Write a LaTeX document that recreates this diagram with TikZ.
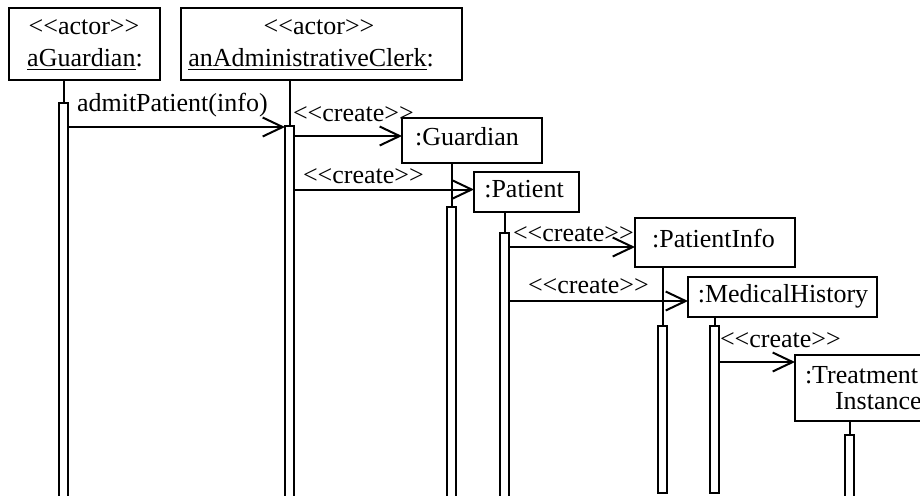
\documentclass[tikz,border=0pt]{standalone}
\usepackage{fontspec}
\setmainfont{Liberation Serif}
\usetikzlibrary{arrows.meta}
\newcommand\stlt{<{}<}
\newcommand\stgt{>{}>}
\begin{document}
\begin{tikzpicture}[x=0.5pt,y=-0.5pt,
  box/.style={draw, line width=1pt, rectangle, inner sep=0pt, outer sep=0pt, fill=white},
  bar/.style={draw, line width=0.9pt, rectangle, inner sep=0pt, outer sep=0pt, fill=white, minimum width=4.5pt},
  life/.style={line width=1pt},
  lbl/.style={inner sep=0pt, outer sep=0pt, anchor=base, font=\fontsize{13pt}{15.6pt}\selectfont},
  msg/.style={line width=1pt, -{Straight Barb[length=10pt,width=9.5pt,line width=1pt]}}
]
\useasboundingbox (0,0) rectangle (920,495);
\clip (0,0) rectangle (920,495);
\fill[white] (0,0) rectangle (920,495);

% object boxes
\node[box, minimum width=75.5pt, minimum height=36pt] (aG) at (84.5,44) {};
\node[box, minimum width=140.5pt, minimum height=36pt] (clerk) at (321.5,44) {};
\node[box, minimum width=70pt, minimum height=22.5pt] (guard) at (472,140.5) {};
\node[box, minimum width=52.5pt, minimum height=20pt] (pat) at (526.5,192) {};
\node[box, minimum width=80pt, minimum height=24.5pt] (pinfo) at (715,242.5) {};
\node[box, minimum width=94.5pt, minimum height=20pt] (mh) at (782.5,297) {};
\node[box, minimum width=85pt, minimum height=33pt] (ti) at (880,388) {};

% box texts
\node[lbl] (aGt1) at (84,34) {\stlt actor\stgt};
\node[lbl] (aGt2) at (85,66) {\underline{aGuardian}:};
\node[lbl] (clerkt1) at (319,34) {\stlt actor\stgt};
\node[lbl] (clerkt2) at (311,66) {\underline{anAdministrativeClerk}:};
\node[lbl] (guardt) at (467,145) {:Guardian};
\node[lbl] (patt) at (524,197) {:Patient};
\node[lbl] (pinfot) at (713.5,247) {:PatientInfo};
\node[lbl] (mht) at (783,302) {:MedicalHistory};
\node[lbl, anchor=base west] (tit1) at (805,383) {:Treatment};
\node[lbl, anchor=base west] (tit2) at (835,409) {Instance};

% activation bars
\node[bar, minimum height=208.5pt] (aGbar) at (63.5,311.5) {};
\node[bar, minimum height=197pt] (clerkbar) at (289.5,323) {};
\node[bar, minimum height=156.5pt] (guardbar) at (451.5,363.5) {};
\node[bar, minimum height=143.5pt] (patbar) at (504.5,376.5) {};
\node[bar, minimum height=83.5pt] (pinfobar) at (662.5,409.5) {};
\node[bar, minimum height=83.5pt] (mhbar) at (714.5,409.5) {};
\node[bar, minimum height=42.5pt] (tibar) at (849.5,477.5) {};

% lifelines
\draw[life] (aGbar.north |- aG.south) -- (aGbar.north);
\draw[life] (clerkbar.north |- clerk.south) -- (clerkbar.north);
\draw[life] (guardbar.north |- guard.south) -- (guardbar.north);
\draw[life] (patbar.north |- pat.south) -- (patbar.north);
\draw[life] (pinfobar.north |- pinfo.south) -- (pinfobar.north);
\draw[life] (mhbar.north |- mh.south) -- (mhbar.north);
\draw[life] (tibar.north |- ti.south) -- (tibar.north);

% messages
\coordinate (y1) at (0,127);
\coordinate (y2) at (0,136);
\coordinate (y3) at (0,189.5);
\coordinate (y4) at (0,247);
\coordinate (y5) at (0,301);
\coordinate (y6) at (0,362);
\draw[msg] (aGbar.east |- y1) -- (clerkbar.west |- y1);
\draw[msg] (clerkbar.east |- y2) -- (guard.west |- y2);
\draw[msg] (clerkbar.east |- y3) -- (pat.west |- y3);
\draw[msg] (patbar.east |- y4) -- (pinfo.west |- y4);
\draw[msg] (patbar.east |- y5) -- (mh.west |- y5);
\draw[msg] (mhbar.east |- y6) -- (ti.west |- y6);

% message labels
\node[lbl, anchor=base west] (m1) at (77,111) {admitPatient(info)};
\node[lbl, anchor=base west] (m2) at (293,121) {\stlt create\stgt};
\node[lbl, anchor=base west] (m3) at (303,183) {\stlt create\stgt};
\node[lbl, anchor=base west] (m4) at (513,241) {\stlt create\stgt};
\node[lbl, anchor=base west] (m5) at (528,293) {\stlt create\stgt};
\node[lbl, anchor=base west] (m6) at (720,347) {\stlt create\stgt};
\end{tikzpicture}
\end{document}
